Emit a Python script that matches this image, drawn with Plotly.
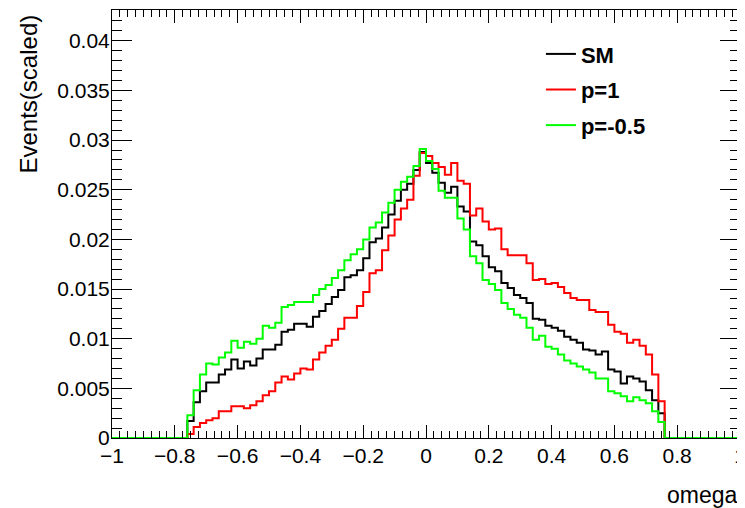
import numpy as np
import plotly.graph_objects as go

# Histogram: 100 bins from -1 to 1 (width 0.02); non-zero content from -0.76 to 0.76
x_min, x_max, n_bins = -1.0, 1.0, 100
pad_zeros = 12  # empty bins on each side

x_tick_vals = [-1.0, -0.8, -0.6, -0.4, -0.2, 0.0, 0.2, 0.4, 0.6, 0.8, 1.0]
x_tick_text = ["\u22121", "\u22120.8", "\u22120.6", "\u22120.4", "\u22120.2", "0",
               "0.2", "0.4", "0.6", "0.8", "1"]

sm_vals = [0.0017, 0.0036, 0.0047, 0.0056, 0.0056, 0.0064, 0.0069, 0.0079, 0.0070, 0.0077,
           0.0073, 0.0080, 0.0089, 0.0089, 0.0094, 0.0107, 0.0109, 0.0115, 0.0115, 0.0112,
           0.0122, 0.0128, 0.0135, 0.0142, 0.0149, 0.0162, 0.0164, 0.0169, 0.0181, 0.0197,
           0.0201, 0.0212, 0.0225, 0.0239, 0.0250, 0.0256, 0.0270, 0.0288, 0.0277, 0.0267,
           0.0257, 0.0247, 0.0253, 0.0233, 0.0228, 0.0198, 0.0194, 0.0183, 0.0172, 0.0168,
           0.0156, 0.0151, 0.0144, 0.0141, 0.0136, 0.0120, 0.0119, 0.0113, 0.0111, 0.0108,
           0.0102, 0.0099, 0.0096, 0.0089, 0.0088, 0.0084, 0.0087, 0.0069, 0.0067, 0.0055,
           0.0062, 0.0060, 0.0057, 0.0048, 0.0038, 0.0025]

p1_vals = [0.0004, 0.0011, 0.0015, 0.0018, 0.0020, 0.0027, 0.0027, 0.0032, 0.0032, 0.0030,
           0.0033, 0.0037, 0.0043, 0.0047, 0.0056, 0.0062, 0.0059, 0.0065, 0.0070, 0.0069,
           0.0079, 0.0086, 0.0093, 0.0099, 0.0110, 0.0121, 0.0121, 0.0133, 0.0147, 0.0166,
           0.0169, 0.0189, 0.0204, 0.0220, 0.0231, 0.0240, 0.0264, 0.0287, 0.0284, 0.0277,
           0.0273, 0.0265, 0.0277, 0.0259, 0.0256, 0.0224, 0.0231, 0.0218, 0.0210, 0.0211,
           0.0190, 0.0184, 0.0184, 0.0184, 0.0176, 0.0159, 0.0160, 0.0155, 0.0156, 0.0152,
           0.0146, 0.0141, 0.0139, 0.0139, 0.0129, 0.0127, 0.0127, 0.0114, 0.0107, 0.0105,
           0.0096, 0.0099, 0.0093, 0.0084, 0.0064, 0.0037]

pm05_vals = [0.0023, 0.0048, 0.0064, 0.0075, 0.0074, 0.0081, 0.0086, 0.0098, 0.0091, 0.0097,
             0.0095, 0.0100, 0.0113, 0.0111, 0.0116, 0.0132, 0.0134, 0.0137, 0.0137, 0.0137,
             0.0144, 0.0150, 0.0154, 0.0161, 0.0169, 0.0179, 0.0185, 0.0190, 0.0200, 0.0212,
             0.0217, 0.0227, 0.0237, 0.0250, 0.0258, 0.0263, 0.0274, 0.0291, 0.0279, 0.0271,
             0.0249, 0.0242, 0.0242, 0.0221, 0.0210, 0.0183, 0.0176, 0.0159, 0.0155, 0.0149,
             0.0136, 0.0130, 0.0124, 0.0121, 0.0111, 0.0099, 0.0103, 0.0092, 0.0090, 0.0084,
             0.0078, 0.0075, 0.0072, 0.0069, 0.0066, 0.0060, 0.0060, 0.0047, 0.0045, 0.0042,
             0.0037, 0.0041, 0.0038, 0.0035, 0.0027, 0.0016]

series_names = ["SM", "p=1", "p=-0.5"]
series_colors = ["#000000", "#ff0000", "#00ff00"]
series_vals = [sm_vals, p1_vals, pm05_vals]

edges = np.linspace(x_min, x_max, n_bins + 1)

fig = go.Figure()
for i, (name, color, vals) in enumerate(zip(series_names, series_colors, series_vals)):
    full = [0.0] * pad_zeros + list(vals) + [0.0] * pad_zeros
    y = full + [full[-1]]
    fig.add_trace(go.Scatter(
        x=edges, y=y, mode="lines", line=dict(color=color, width=2, shape="hv"),
        name=name, legendgroup=f"g{i}",
    ))

font_family = "Liberation Sans, Arial, Helvetica, sans-serif"

# The page body has an 8px margin, so the figure is offset to compensate.
fig.update_layout(
    width=745, height=500,
    margin=dict(l=104, r=13, t=2, b=70, autoexpand=False),
    paper_bgcolor="white", plot_bgcolor="white",
    font=dict(family=font_family, size=21, color="black"),
    showlegend=True,
    legend=dict(
        x=0.683, y=0.946, xanchor="left", yanchor="top",
        bgcolor="rgba(0,0,0,0)", borderwidth=0,
        font=dict(family=font_family, size=22, color="black", weight="bold"),
        tracegroupgap=4, itemwidth=30,
    ),
    xaxis=dict(
        range=[x_min, x_max], showgrid=False, zeroline=False, automargin=False,
        showline=True, linecolor="black", linewidth=1, mirror="ticks",
        ticks="inside", ticklen=13, tickcolor="black", tickwidth=1,
        tickmode="array", tickvals=x_tick_vals, ticktext=x_tick_text,
        tickangle=0, ticklabelstandoff=-1, ticklabeloverflow="allow",
        tickfont=dict(family=font_family, size=21, color="black"),
        minor=dict(ticks="inside", ticklen=7, dtick=0.025, tick0=-1, tickcolor="black", showgrid=False),
    ),
    yaxis=dict(
        range=[0, 0.0431], showgrid=False, zeroline=False, automargin=False,
        showline=True, linecolor="black", linewidth=1, mirror="ticks",
        ticks="inside", ticklen=20, tickcolor="black", tickwidth=1,
        tick0=0, dtick=0.005, ticklabelstandoff=-3,
        tickfont=dict(family=font_family, size=21, color="black"),
        minor=dict(ticks="inside", ticklen=10, dtick=0.001, tick0=0, tickcolor="black", showgrid=False),
    ),
    annotations=[
        dict(text="Events(scaled)", xref="paper", yref="paper",
             x=(20 - 104) / 628, y=1 - 3 / 428, xanchor="center", yanchor="top",
             textangle=-90, showarrow=False,
             font=dict(family=font_family, size=24, color="black")),
        dict(text="omega", xref="paper", yref="paper",
             x=1.0, y=(430 - 487) / 428, xanchor="right", yanchor="middle",
             showarrow=False,
             font=dict(family=font_family, size=23, color="black")),
    ],
)

fig.write_html("out.html")
